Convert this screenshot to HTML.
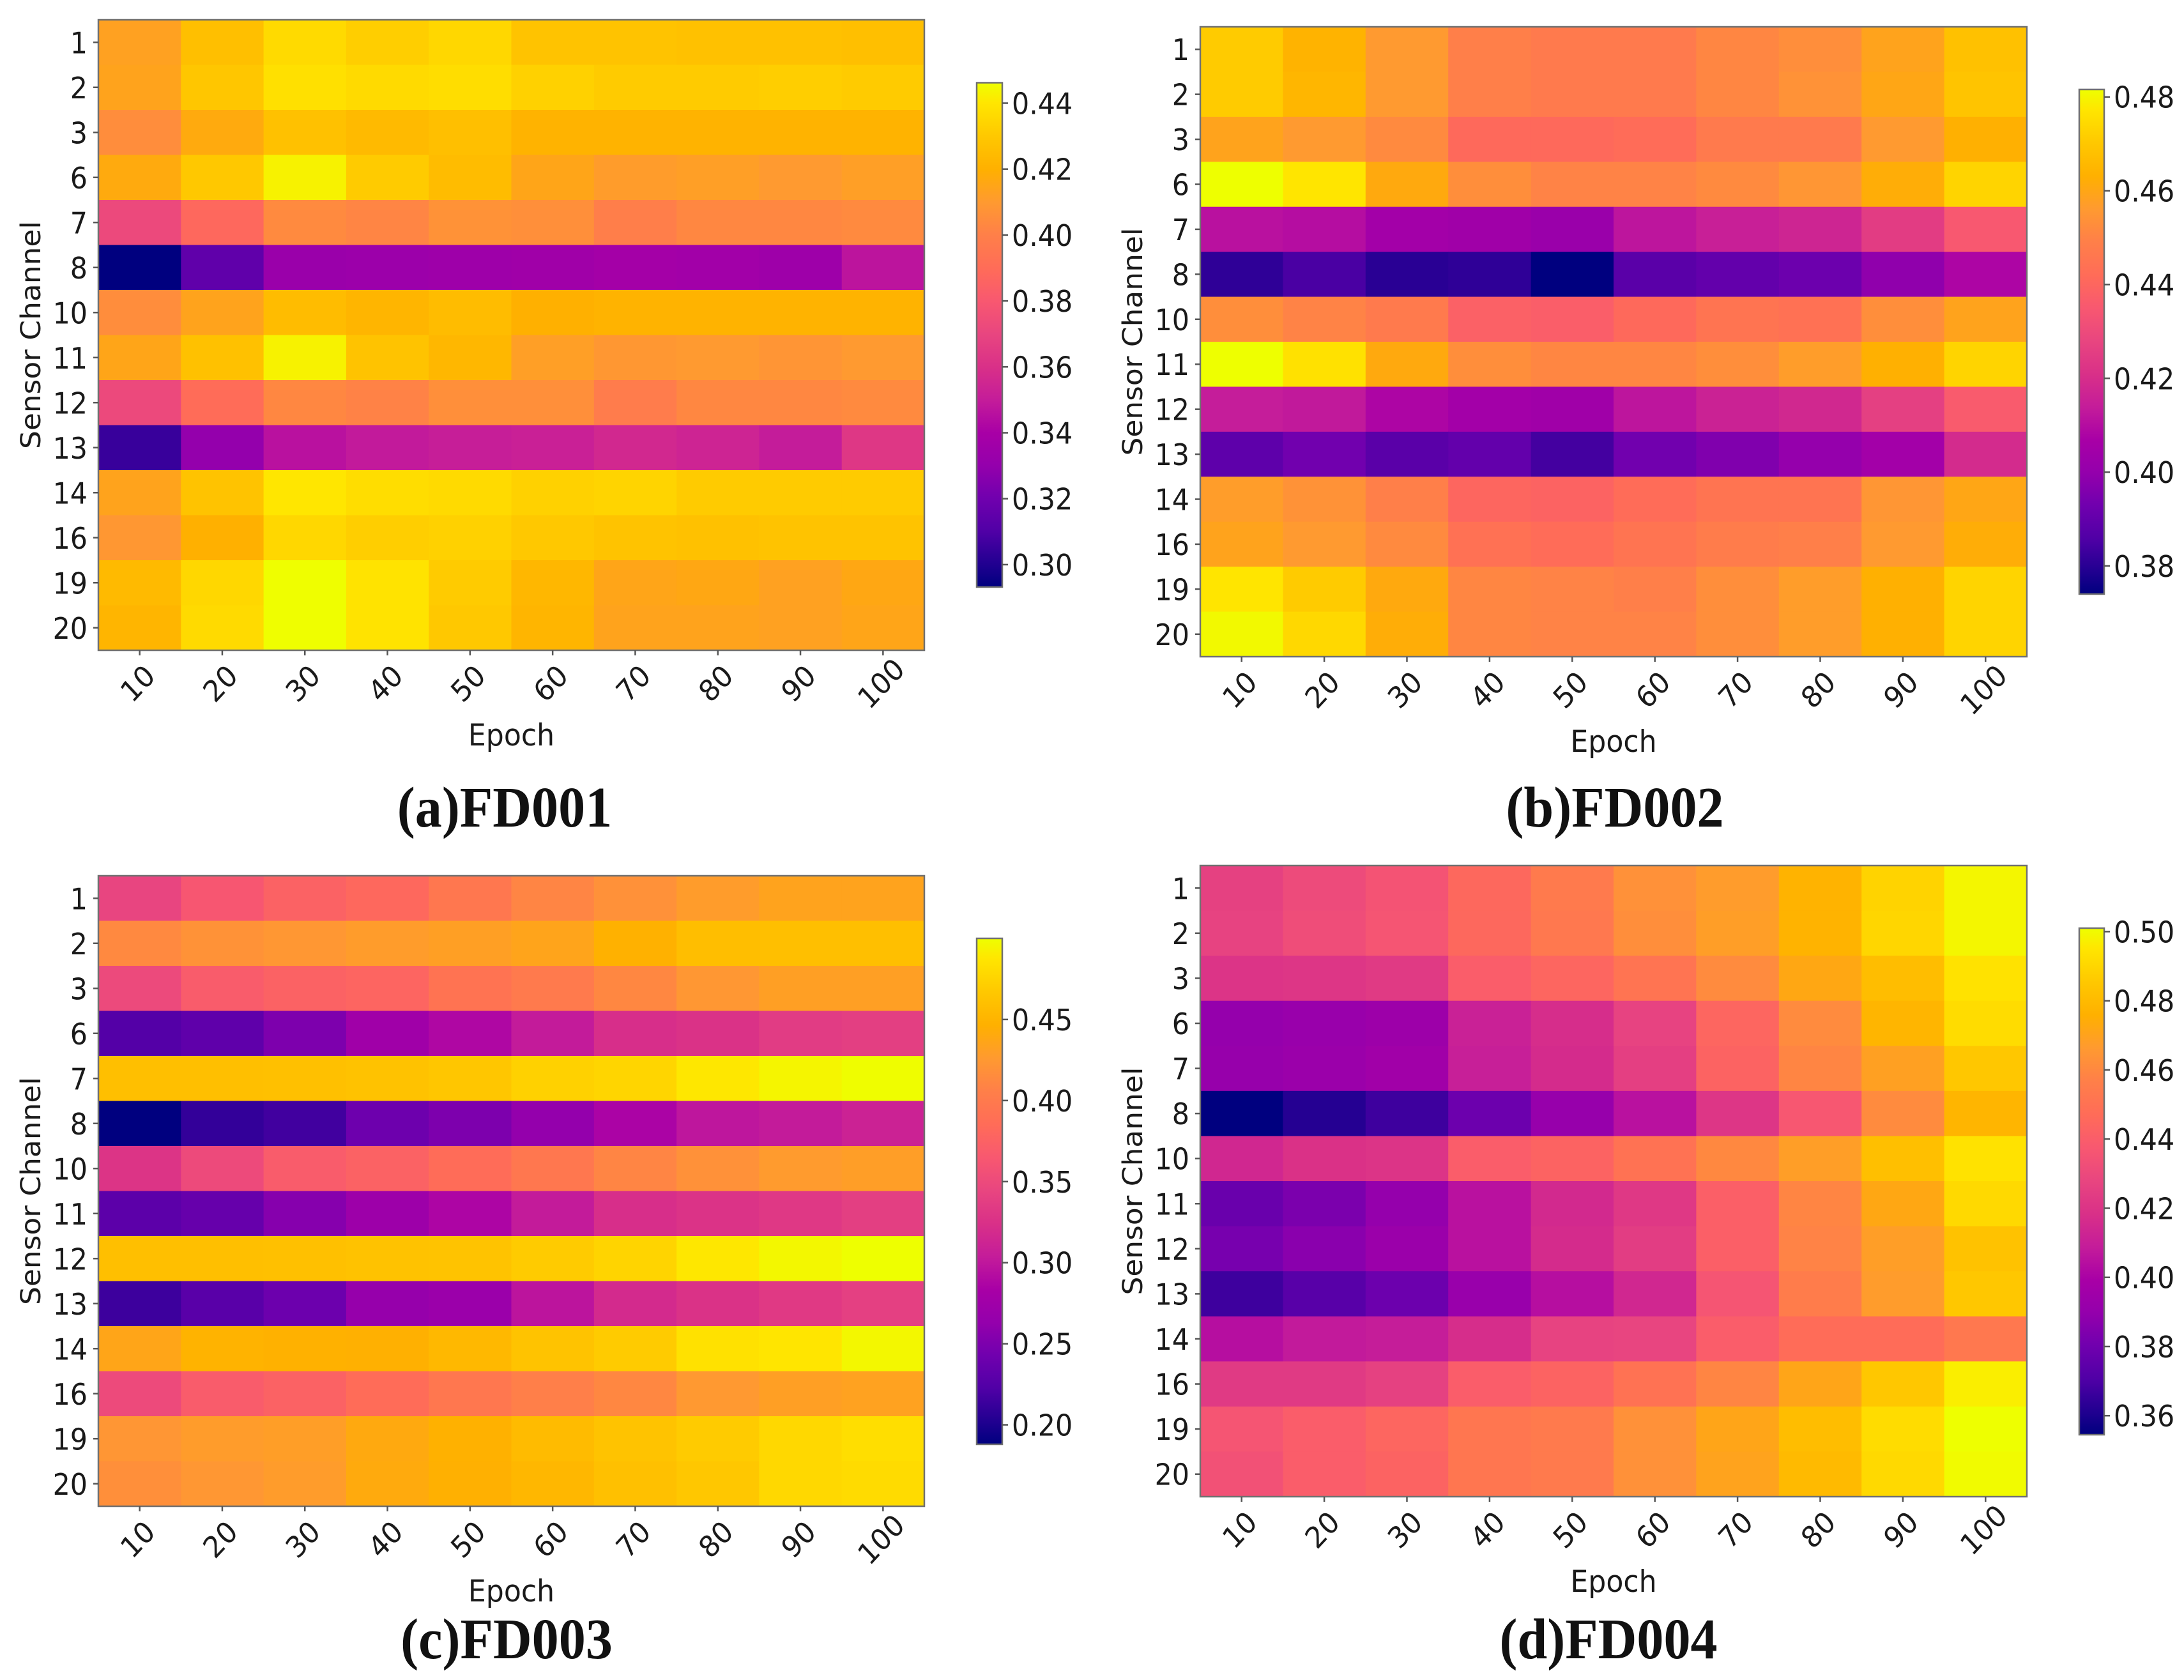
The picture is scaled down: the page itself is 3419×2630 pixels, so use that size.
<!DOCTYPE html>
<html lang="en">
<head>
<meta charset="utf-8">
<title>Sensor channel heatmaps FD001-FD004</title>
<style>
html,body{margin:0;padding:0;background:#fff;width:3419px;height:2630px;overflow:hidden}
svg{display:block}
text{font-family:"DejaVu Sans","Liberation Sans",sans-serif;fill:#1a1a1a}
.caption{font-family:"Liberation Serif",serif;font-weight:bold;fill:#111}
</style>
</head>
<body>
<svg id="figure" xmlns="http://www.w3.org/2000/svg" width="3419" height="2630" viewBox="0 0 3419 2630">
<defs id="defs"></defs>
<rect x="0" y="0" width="3419" height="2630" fill="#ffffff"></rect>
</svg>
<script>
const sensorChannels = [1, 2, 3, 6, 7, 8, 10, 11, 12, 13, 14, 16, 19, 20];
const epochs = [10, 20, 30, 40, 50, 60, 70, 80, 90, 100];

const fd001Values = [
  [.413,.426,.436,.432,.435,.428,.428,.427,.427,.426],
  [.414,.429,.438,.436,.437,.433,.431,.431,.432,.431],
  [.405,.417,.427,.424,.426,.421,.421,.421,.421,.421],
  [.417,.430,.443,.431,.425,.415,.411,.412,.410,.412],
  [.372,.388,.404,.402,.407,.406,.399,.403,.403,.404],
  [.2932,.315,.333,.334,.335,.336,.338,.337,.335,.347],
  [.405,.414,.425,.422,.425,.420,.421,.421,.421,.421],
  [.415,.427,.443,.428,.423,.412,.409,.410,.408,.410],
  [.372,.390,.403,.401,.406,.406,.398,.403,.403,.404],
  [.305,.330,.346,.349,.351,.352,.356,.354,.350,.363],
  [.414,.428,.440,.437,.436,.433,.434,.431,.431,.431],
  [.409,.420,.435,.432,.433,.430,.428,.427,.428,.428],
  [.424,.435,.446,.439,.431,.423,.415,.416,.413,.416],
  [.422,.436,.446,.439,.430,.422,.414,.414,.413,.415]
];
const fd002Values = [
  [.471,.464,.456,.449,.447,.447,.451,.453,.459,.468],
  [.471,.465,.456,.449,.447,.447,.451,.454,.460,.469],
  [.459,.456,.452,.441,.441,.442,.447,.447,.456,.463],
  [.4816,.477,.461,.453,.450,.450,.452,.455,.462,.473],
  [.411,.410,.405,.404,.402,.412,.415,.417,.425,.435],
  [.381,.385,.380,.381,.374,.388,.390,.392,.399,.408],
  [.453,.450,.447,.438,.437,.441,.445,.444,.453,.459],
  [.4816,.476,.461,.453,.451,.451,.453,.457,.463,.473],
  [.414,.413,.408,.405,.404,.412,.416,.418,.426,.436],
  [.389,.393,.388,.390,.384,.393,.396,.400,.405,.419],
  [.457,.454,.449,.440,.439,.442,.445,.445,.455,.460],
  [.459,.456,.452,.444,.442,.445,.448,.449,.456,.462],
  [.477,.471,.461,.451,.450,.449,.453,.457,.463,.473],
  [.4805,.474,.462,.451,.450,.450,.453,.457,.463,.473]
];
const fd003Values = [
  [.344,.363,.375,.381,.397,.410,.419,.428,.434,.434],
  [.413,.420,.424,.428,.431,.435,.447,.458,.459,.459],
  [.349,.369,.375,.378,.393,.400,.412,.424,.431,.431],
  [.225,.232,.250,.275,.288,.303,.322,.326,.335,.338],
  [.459,.459,.460,.462,.465,.473,.476,.488,.495,.499],
  [.188,.210,.216,.241,.250,.263,.285,.299,.303,.310],
  [.328,.350,.369,.375,.385,.397,.410,.419,.427,.430],
  [.230,.236,.255,.272,.287,.303,.322,.327,.332,.338],
  [.459,.459,.460,.462,.463,.469,.475,.488,.496,.500],
  [.214,.228,.240,.265,.270,.298,.318,.326,.333,.339],
  [.436,.449,.447,.446,.453,.463,.469,.484,.487,.496],
  [.350,.369,.375,.385,.397,.405,.412,.425,.431,.433],
  [.423,.428,.430,.440,.447,.456,.463,.469,.478,.482],
  [.418,.424,.428,.441,.446,.452,.460,.466,.478,.480]
];
const fd004Values = [
  [.426,.431,.435,.445,.454,.463,.467,.477,.489,.499],
  [.427,.432,.436,.445,.453,.462,.468,.477,.490,.499],
  [.420,.421,.423,.440,.444,.451,.461,.472,.481,.494],
  [.390,.392,.394,.411,.417,.427,.444,.461,.478,.492],
  [.391,.393,.396,.410,.416,.425,.443,.459,.469,.485],
  [.3545,.362,.367,.379,.391,.405,.421,.437,.461,.478],
  [.414,.419,.420,.440,.443,.450,.460,.468,.482,.494],
  [.378,.383,.390,.405,.415,.422,.441,.459,.472,.491],
  [.382,.387,.393,.405,.416,.424,.441,.458,.468,.483],
  [.367,.373,.379,.392,.404,.414,.436,.455,.467,.485],
  [.404,.408,.409,.417,.427,.428,.440,.447,.447,.453],
  [.423,.423,.426,.440,.443,.450,.459,.471,.485,.497],
  [.436,.440,.444,.452,.454,.463,.471,.481,.492,.501],
  [.434,.440,.443,.452,.454,.463,.470,.480,.491,.500]
];

const fd001Ticks = [0.30, 0.32, 0.34, 0.36, 0.38, 0.40, 0.42, 0.44];
const fd002Ticks = [0.38, 0.40, 0.42, 0.44, 0.46, 0.48];
const fd003Ticks = [0.20, 0.25, 0.30, 0.35, 0.40, 0.45];
const fd004Ticks = [0.36, 0.38, 0.40, 0.42, 0.44, 0.46, 0.48, 0.50];

const colormapPositions = [0,.044,.11,.175,.24,.305,.37,.436,.50,.567,.632,.70,.763,.828,.894,.96,1];
const colormapColors = ["#00007f","#200090","#5000a6","#7000ae","#9400ac","#a800a6","#c41c9a","#d93088","#e84580","#f85870","#ff6c58","#ff8048","#ff9a30","#ffb000","#ffc800","#ffe600","#eeff00"];

const panels = [
  {id:"fd001",caption:"(a)FD001",values:fd001Values,ticks:fd001Ticks,vmin:.2932,vmax:.4462,ax:{l:154,r:1447,t:31,b:1018},cb:{l:1529,r:1569,t:129.5,b:919},capX:790,capY:1294},
  {id:"fd002",caption:"(b)FD002",values:fd002Values,ticks:fd002Ticks,vmin:.374,vmax:.4816,ax:{l:1879,r:3173,t:42,b:1028},cb:{l:3255,r:3294,t:140,b:930},capX:2528,capY:1294},
  {id:"fd003",caption:"(c)FD003",values:fd003Values,ticks:fd003Ticks,vmin:.188,vmax:.50,ax:{l:154,r:1447,t:1371,b:2358},cb:{l:1529,r:1569,t:1469,b:2261},capX:793,capY:2596},
  {id:"fd004",caption:"(d)FD004",values:fd004Values,ticks:fd004Ticks,vmin:.3545,vmax:.501,ax:{l:1879,r:3173,t:1355,b:2343},cb:{l:3255,r:3294,t:1453,b:2246},capX:2518,capY:2596}
];

const NS = "http://www.w3.org/2000/svg";
const svg = document.getElementById("figure");
const defs = document.getElementById("defs");
const SQUEEZE = "scale(.93,1)";

function mk(parent, tag, attrs, txt) {
  const el = document.createElementNS(NS, tag);
  for (const k in attrs) el.setAttribute(k, attrs[k]);
  if (txt !== undefined) el.textContent = txt;
  parent.appendChild(el);
  return el;
}
function hexToRgb(h) {
  return [parseInt(h.slice(1,3),16), parseInt(h.slice(3,5),16), parseInt(h.slice(5,7),16)];
}
function colorFor(t) {
  t = Math.max(0, Math.min(1, t));
  for (let i = 1; i < colormapPositions.length; i++) {
    if (t <= colormapPositions[i]) {
      const f = (t - colormapPositions[i-1]) / (colormapPositions[i] - colormapPositions[i-1]);
      const a = hexToRgb(colormapColors[i-1]);
      const b = hexToRgb(colormapColors[i]);
      return "rgb(" + a.map((c,j) => Math.round(c + (b[j]-c)*f)).join(",") + ")";
    }
  }
  return colormapColors[colormapColors.length-1];
}

const gradient = mk(defs, "linearGradient", {id:"cmap",x1:0,y1:1,x2:0,y2:0});
colormapPositions.forEach((p,i) => {
  mk(gradient, "stop", {offset:p, "stop-color":colormapColors[i]});
});

const SPINE = "#707070";
const TICK = "#555555";

panels.forEach(p => {
  const g = mk(svg, "g", {});
  
  

  const ax = p.ax;
  const colW = (ax.r - ax.l) / epochs.length;
  const rowH = (ax.b - ax.t) / sensorChannels.length;
  const xScale = i => ax.l + i * colW;
  const yScale = i => ax.t + i * rowH;
  const norm = v => (v - p.vmin) / (p.vmax - p.vmin);

  p.values.forEach((row, r) => {
    row.forEach((v, c) => {
      const cell = mk(g, "rect", {
        x: xScale(c), y: yScale(r),
        width: colW + 0.5, height: rowH + 0.5,
        fill: colorFor(norm(v))
      });
      
      
    });
  });

  const spine = mk(g, "rect", {x:ax.l, y:ax.t, width:ax.r-ax.l, height:ax.b-ax.t, fill:"none", stroke:SPINE, "stroke-width":2.5});
  
  

  sensorChannels.forEach((ch, r) => {
    const y = yScale(r) + rowH / 2;
    const tick = mk(g, "line", {x1:ax.l-8, x2:ax.l, y1:y, y2:y, stroke:TICK, "stroke-width":2.5});
    
    
    const label = mk(g, "text", {x:0, y:0, "text-anchor":"end", "font-size":46, transform:"translate("+(ax.l-17)+","+(y+17)+") "+SQUEEZE}, String(ch));
    
    
  });

  epochs.forEach((ep, c) => {
    const x = xScale(c) + colW / 2;
    const tick = mk(g, "line", {x1:x, x2:x, y1:ax.b, y2:ax.b+8, stroke:TICK, "stroke-width":2.5});
    
    
    const cx = x - 3, cy = ax.b + 52;
    const label = mk(g, "text", {x:0, y:16, "text-anchor":"middle", "font-size":46, transform:"translate("+cx+","+cy+") "+SQUEEZE+" rotate(-45)"}, String(ep));
    
    
  });

  const xTitle = mk(g, "text", {x:0, y:0, "text-anchor":"middle", "font-size":47.5, transform:"translate("+((ax.l+ax.r)/2)+","+(ax.b+149)+") "+SQUEEZE}, "Epoch");
  
  

  const yx = ax.l - 91, yy = (ax.t + ax.b) / 2;
  const yTitle = mk(g, "text", {x:0, y:0, "text-anchor":"middle", "font-size":45.5, transform:"translate("+yx+","+yy+") "+SQUEEZE+" rotate(-90)"}, "Sensor Channel");
  
  

  const cb = p.cb;
  const cbar = mk(g, "rect", {x:cb.l, y:cb.t, width:cb.r-cb.l, height:cb.b-cb.t, fill:"url(#cmap)", stroke:SPINE, "stroke-width":2.5});
  
  
  const cbScale = v => cb.b - norm(v) * (cb.b - cb.t);
  p.ticks.forEach(v => {
    const y = cbScale(v);
    const tick = mk(g, "line", {x1:cb.r, x2:cb.r+9, y1:y, y2:y, stroke:TICK, "stroke-width":2.5});
    
    
    const label = mk(g, "text", {x:0, y:0, "font-size":46, transform:"translate("+(cb.r+15)+","+(y+17)+") "+SQUEEZE}, v.toFixed(2));
    
    
  });

  const cap = mk(g, "text", {x:0, y:0, "text-anchor":"middle", "font-size":90.5, "class":"caption", transform:"translate("+p.capX+","+p.capY+") "+SQUEEZE}, p.caption);
  
  
});
</script>
</body>
</html>
